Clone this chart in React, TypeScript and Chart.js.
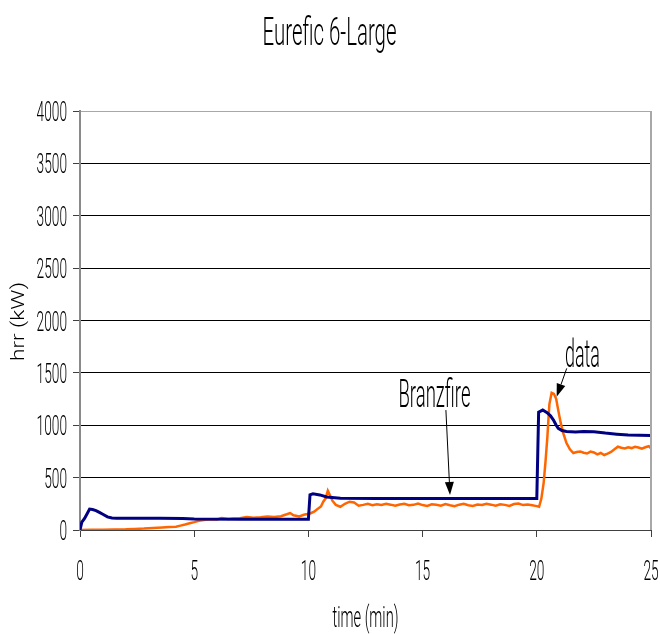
import React, { useEffect, useRef } from "react";
import { Chart, registerables } from "chart.js";

Chart.register(...registerables);

const TITLE = "Eurefic 6-Large";
const X_TITLE = "time (min)";
const Y_TITLE = "hrr (kW)";
const X_MIN = 0;
const X_MAX = 25;
const X_STEP = 5;
const Y_MIN = 0;
const Y_MAX = 4000;
const Y_STEP = 500;

// Branzfire model (blue)
const branzTime = [
  0, 0.08, 0.2, 0.3, 0.42, 0.55, 0.7, 0.85, 1.0, 1.2,
  1.4, 1.6, 2.5, 3.5, 4.5, 5.0, 7.0, 9.0, 10.0, 10.07,
  10.2, 10.5, 10.8, 11.4, 13, 16, 18, 20.0, 20.08, 20.26,
  20.45, 20.6, 20.73, 20.85, 20.94, 21.1, 21.3, 21.7, 22.04, 22.5,
  23.0, 23.5, 24.0, 24.5, 25.0,
];
const branzHrr = [
  0, 75, 110, 150, 200, 195, 185, 168, 150, 125,
  115, 112, 112, 112, 110, 105, 103, 102, 102, 335,
  345, 335, 315, 302, 300, 300, 300, 300, 1125, 1145,
  1120, 1090, 1050, 1000, 970, 950, 940, 935, 940, 938,
  925, 915, 907, 905, 903,
];

// measured data (orange)
const dataTime = [
  0, 0.5, 1.0, 1.5, 2.0, 2.4, 2.8, 3.2, 3.6, 3.9,
  4.2, 4.4, 4.6, 4.8, 5.0, 5.2, 5.5, 5.8, 6.0, 6.2,
  6.5, 6.7, 7.0, 7.3, 7.6, 7.9, 8.2, 8.5, 8.8, 9.05,
  9.2, 9.35, 9.6, 9.8, 9.95, 10.1, 10.25, 10.4, 10.55, 10.65,
  10.75, 10.85, 10.95, 11.05, 11.2, 11.4, 11.6, 11.8, 12.0, 12.2,
  12.4, 12.6, 12.8, 13.0, 13.2, 13.4, 13.6, 13.8, 14.0, 14.2,
  14.4, 14.6, 14.8, 15.0, 15.2, 15.4, 15.6, 15.8, 16.0, 16.2,
  16.4, 16.6, 16.8, 17.0, 17.2, 17.4, 17.6, 17.8, 18.0, 18.2,
  18.4, 18.6, 18.8, 19.0, 19.2, 19.4, 19.6, 19.8, 20.0, 20.1,
  20.2, 20.3, 20.38, 20.46, 20.55, 20.65, 20.75, 20.85, 20.95, 21.05,
  21.15, 21.3, 21.45, 21.6, 21.75, 21.9, 22.05, 22.2, 22.35, 22.5,
  22.65, 22.8, 22.95, 23.1, 23.25, 23.4, 23.55, 23.7, 23.85, 24.0,
  24.15, 24.3, 24.45, 24.6, 24.75, 24.9, 25.0,
];
const dataHrr = [
  0, 3, 2, 4, 6, 10, 14, 20, 24, 28,
  32, 42, 52, 64, 75, 88, 98, 102, 100, 115,
  105, 110, 112, 125, 118, 122, 128, 124, 132, 150,
  162, 140, 130, 145, 152, 160, 175, 200, 225, 270,
  300, 375, 330, 280, 240, 222, 250, 270, 262, 232,
  240, 250, 236, 245, 238, 250, 242, 232, 244, 250,
  236, 240, 252, 238, 230, 245, 240, 232, 248, 236,
  228, 242, 250, 236, 230, 244, 238, 250, 242, 232,
  246, 240, 230, 248, 252, 238, 244, 236, 228, 222,
  300, 450, 650, 880, 1200, 1310, 1300, 1250, 1130, 1020,
  930, 830, 770, 735, 745, 750, 738, 730, 748, 740,
  722, 735, 716, 730, 745, 770, 795, 785, 778, 790,
  782, 795, 788, 776, 790, 800, 780,
];

// annotation labels: text anchor and arrow (tail -> tip) in data units
const noteLabels = ["Branzfire", "data"];
const noteTextTime = [15.52, 22.0];
const noteTextHrr = [1174, 1556];
const noteTailTime = [16.02, 21.31];
const noteTailHrr = [1145, 1543];
const noteTipTime = [16.2, 20.87];
const noteTipHrr = [334, 1272];

const FONT = "Roboto";

function condensedText(
  ctx: CanvasRenderingContext2D,
  text: string,
  x: number,
  y: number,
  size: number,
  opts: { width?: number; sx?: number; align?: CanvasTextAlign; rotate?: number }
) {
  ctx.save();
  ctx.font = `300 ${size}px ${FONT}`;
  const w = ctx.measureText(text).width;
  const sx = opts.width ? opts.width / w : opts.sx || 1;
  ctx.translate(x, y);
  if (opts.rotate) ctx.rotate(opts.rotate);
  ctx.scale(sx, 1);
  ctx.textAlign = opts.align || "center";
  ctx.textBaseline = "alphabetic";
  ctx.fillStyle = "#000";
  ctx.fillText(text, 0, 0);
  ctx.restore();
}

const textPlugin = {
  id: "condensedText",
  afterDraw(chart: any) {
    const ctx: CanvasRenderingContext2D = chart.ctx;
    const xs = chart.scales.x;
    const ys = chart.scales.y;
    const area = chart.chartArea;

    // right border
    ctx.save();
    ctx.strokeStyle = "#a8a8a8";
    ctx.lineWidth = 2;
    ctx.beginPath();
    ctx.moveTo(area.right, area.top);
    ctx.lineTo(area.right, area.bottom);
    ctx.stroke();
    ctx.restore();

    // title
    condensedText(ctx, TITLE, (area.left + area.right) / 2 - 36, 45, 38, { width: 134 });

    // y tick labels
    ys.ticks.forEach((t: any) => {
      const py = ys.getPixelForValue(t.value);
      condensedText(ctx, String(t.value), area.left - 13, py + 10, 28, { sx: 0.49, align: "right" });
    });
    // x tick labels
    xs.ticks.forEach((t: any) => {
      const px = xs.getPixelForValue(t.value);
      condensedText(ctx, String(t.value), px, area.bottom + 50, 28, { sx: 0.49, align: "center" });
    });

    // axis titles
    condensedText(ctx, X_TITLE, (area.left + area.right) / 2, area.bottom + 97, 30, { width: 66 });
    condensedText(ctx, Y_TITLE, 24, (area.top + area.bottom) / 2 + 1, 18, {
      width: 79,
      rotate: -Math.PI / 2,
    });

    // annotations
    noteLabels.forEach((label, i) => {
      const tx = xs.getPixelForValue(noteTextTime[i]);
      const ty = ys.getPixelForValue(noteTextHrr[i]);
      condensedText(ctx, label, tx, ty, 39, { width: label.length > 5 ? 72 : 35 });
      const ax = xs.getPixelForValue(noteTailTime[i]);
      const ay = ys.getPixelForValue(noteTailHrr[i]);
      const bx = xs.getPixelForValue(noteTipTime[i]);
      const by = ys.getPixelForValue(noteTipHrr[i]);
      const ang = Math.atan2(by - ay, bx - ax);
      const len = 13;
      const half = 4.5;
      ctx.save();
      ctx.strokeStyle = "#000";
      ctx.fillStyle = "#000";
      ctx.lineWidth = 1;
      ctx.beginPath();
      ctx.moveTo(ax, ay);
      ctx.lineTo(bx - Math.cos(ang) * len, by - Math.sin(ang) * len);
      ctx.stroke();
      ctx.beginPath();
      ctx.moveTo(bx, by);
      ctx.lineTo(
        bx - Math.cos(ang) * len - Math.sin(ang) * half,
        by - Math.sin(ang) * len + Math.cos(ang) * half
      );
      ctx.lineTo(
        bx - Math.cos(ang) * len + Math.sin(ang) * half,
        by - Math.sin(ang) * len - Math.cos(ang) * half
      );
      ctx.closePath();
      ctx.fill();
      ctx.restore();
    });
  },
};

export default function App() {
  const ref = useRef<HTMLCanvasElement | null>(null);
  useEffect(() => {
    if (!ref.current) return;
    const chart = new Chart(ref.current, {
      type: "line",
      data: {
        datasets: [
          {
            label: "Branzfire",
            data: branzTime.map((t, i) => ({ x: t, y: branzHrr[i] })),
            borderColor: "#000080",
            backgroundColor: "#000080",
            borderWidth: 3,
            pointRadius: 0,
            tension: 0,
            order: 0,
          },
          {
            label: "data",
            data: dataTime.map((t, i) => ({ x: t, y: dataHrr[i] })),
            borderColor: "#ff6600",
            backgroundColor: "#ff6600",
            borderWidth: 2.5,
            pointRadius: 0,
            tension: 0,
            order: 1,
          },
        ],
      },
      options: {
        responsive: false,
        animation: false,
        devicePixelRatio: 1,
        layout: { padding: { left: 73, right: 9, top: 111, bottom: 97 } },
        plugins: {
          legend: { display: false },
          tooltip: { enabled: false },
          title: { display: false },
        },
        scales: {
          x: {
            type: "linear",
            min: X_MIN,
            max: X_MAX,
            ticks: { stepSize: X_STEP, display: false },
            border: { color: "#404040", width: 1 },
            grid: {
              drawOnChartArea: false,
              drawTicks: true,
              tickLength: 7,
              tickColor: "#404040",
            },
          },
          y: {
            min: Y_MIN,
            max: Y_MAX,
            ticks: { stepSize: Y_STEP, display: false },
            border: { color: "#8a8a8a", width: 2 },
            grid: {
              drawTicks: true,
              tickLength: 7,
              tickColor: "#404040",
              lineWidth: 1,
              color: (c: any) =>
                c.tick && c.tick.value === Y_MAX ? "#a8a8a8" : c.tick && c.tick.value === Y_MIN ? "#404040" : "#000000",
            },
          },
        },
      },
      plugins: [textPlugin],
    });
    return () => chart.destroy();
  }, []);
  return (
    <div style={{ position: "absolute", left: 0, top: 0, width: 660, height: 634, background: "#fff" }}>
      <canvas ref={ref} width={660} height={634} style={{ display: "block" }} />
    </div>
  );
}
